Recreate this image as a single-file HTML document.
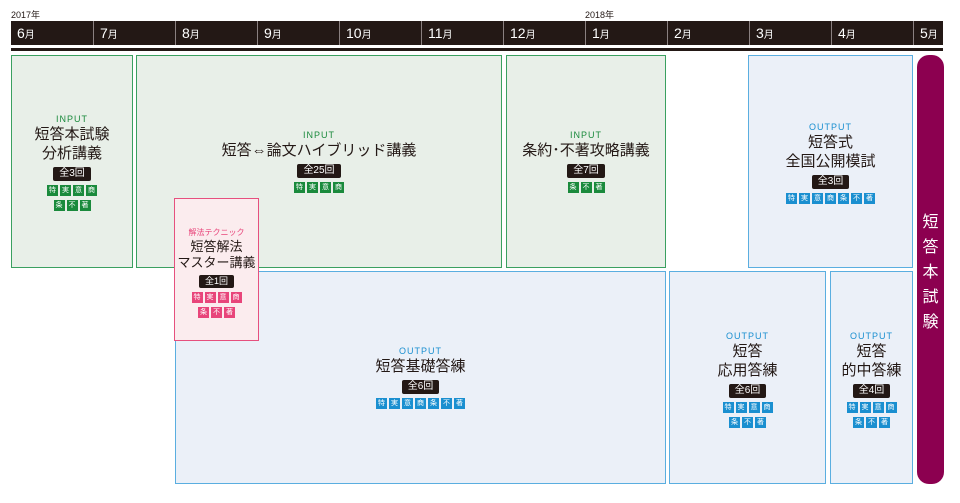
<!DOCTYPE html>
<html><head><meta charset="utf-8"><style>
*{margin:0;padding:0;box-sizing:border-box}
body{width:960px;height:503px;background:#fff;position:relative;overflow:hidden;font-family:"Liberation Sans","Noto Sans CJK JP",sans-serif;color:#231815}
.abs{position:absolute}
.yr{font-size:9px;top:8px}
.hdr{left:11px;top:21px;width:932px;height:24px;background:#231815}
.m{position:absolute;top:21px;height:24px;color:#fff;font-size:14px;line-height:25px;padding-left:6px;border-left:1px solid #8a8080}
.m small{font-size:10px}
.line{left:11px;top:48px;width:932px;height:3px;background:#231815}
.bx{position:absolute;border:1px solid}
.g{background:#e8efe8;border-color:#3aa060}
.b{background:#ebf0f8;border-color:#5aaee0}
.p{background:#fbecee;border-color:#e6507e}
.c{position:absolute;left:0;right:0;text-align:center}
.lab{font-size:9px;letter-spacing:1px;line-height:11px}
.g .lab{color:#1a8a3c}.b .lab{color:#1a8fd0}.p .lab{color:#e8457a;letter-spacing:0;font-size:8px}
.t{font-size:15px;line-height:19px;color:#231815}
.bd{display:inline-block;background:#231815;color:#fff;font-size:10px;line-height:14px;height:14px;padding:0 6px;border-radius:2px;margin-top:0}
.ic{margin-top:4px;line-height:0;font-size:0}
.ic span{display:inline-block;width:11px;height:11px;margin:0 1px 4px;font-size:7px;line-height:11px;color:#fff;text-align:center;vertical-align:top}
.g .ic span{background:#1a8a3c}.b .ic span{background:#1a8fd0}.p .ic span{background:#e8457a}
.purple{left:917px;top:55px;width:27px;height:429px;background:#8c0050;border-radius:12px}
.vt{position:absolute;left:917px;width:27px;text-align:center;color:#fff;font-size:16px;line-height:25px;top:210px}
</style></head><body>
<div class="abs yr" style="left:11px">2017年</div>
<div class="abs yr" style="left:585px">2018年</div>
<div class="abs hdr"></div>
<div class="m" style="left:11px;width:82px;border-left:none">6<small>月</small></div>
<div class="m" style="left:93px;width:82px">7<small>月</small></div>
<div class="m" style="left:175px;width:82px">8<small>月</small></div>
<div class="m" style="left:257px;width:82px">9<small>月</small></div>
<div class="m" style="left:339px;width:82px">10<small>月</small></div>
<div class="m" style="left:421px;width:82px">11<small>月</small></div>
<div class="m" style="left:503px;width:82px">12<small>月</small></div>
<div class="m" style="left:585px;width:82px">1<small>月</small></div>
<div class="m" style="left:667px;width:82px">2<small>月</small></div>
<div class="m" style="left:749px;width:82px">3<small>月</small></div>
<div class="m" style="left:831px;width:82px">4<small>月</small></div>
<div class="m" style="left:913px;width:30px">5<small>月</small></div>
<div class="abs line"></div>

<div class="bx g" style="left:11px;top:55px;width:122px;height:213px">
<div class="c" style="top:58px"><div class="lab">INPUT</div><div class="t">短答本試験<br>分析講義</div><div class="bd">全3回</div>
<div class="ic"><span>特</span><span>実</span><span>意</span><span>商</span><br><span>条</span><span>不</span><span>著</span></div></div></div>

<div class="bx g" style="left:136px;top:55px;width:366px;height:213px">
<div class="c" style="top:74px"><div class="lab">INPUT</div><div class="t">短答<span style="font-size:15px">⇔</span>論文ハイブリッド講義</div><div class="bd">全25回</div>
<div class="ic"><span>特</span><span>実</span><span>意</span><span>商</span></div></div></div>

<div class="bx g" style="left:506px;top:55px;width:160px;height:213px">
<div class="c" style="top:74px"><div class="lab">INPUT</div><div class="t">条約･不著攻略講義</div><div class="bd">全7回</div>
<div class="ic"><span>条</span><span>不</span><span>著</span></div></div></div>

<div class="bx b" style="left:748px;top:55px;width:165px;height:213px">
<div class="c" style="top:66px"><div class="lab">OUTPUT</div><div class="t">短答式<br>全国公開模試</div><div class="bd">全3回</div>
<div class="ic"><span>特</span><span>実</span><span>意</span><span>商</span><span>条</span><span>不</span><span>著</span></div></div></div>

<div class="bx b" style="left:175px;top:271px;width:491px;height:213px">
<div class="c" style="top:74px"><div class="lab">OUTPUT</div><div class="t">短答基礎答練</div><div class="bd">全6回</div>
<div class="ic"><span>特</span><span>実</span><span>意</span><span>商</span><span>条</span><span>不</span><span>著</span></div></div></div>

<div class="bx b" style="left:669px;top:271px;width:157px;height:213px">
<div class="c" style="top:59px"><div class="lab">OUTPUT</div><div class="t">短答<br>応用答練</div><div class="bd">全6回</div>
<div class="ic"><span>特</span><span>実</span><span>意</span><span>商</span><br><span>条</span><span>不</span><span>著</span></div></div></div>

<div class="bx b" style="left:830px;top:271px;width:83px;height:213px">
<div class="c" style="top:59px"><div class="lab">OUTPUT</div><div class="t">短答<br>的中答練</div><div class="bd">全4回</div>
<div class="ic"><span>特</span><span>実</span><span>意</span><span>商</span><br><span>条</span><span>不</span><span>著</span></div></div></div>

<div class="bx p" style="left:174px;top:198px;width:85px;height:143px">
<div class="c" style="top:28px"><div class="lab">解法テクニック</div><div class="t" style="font-size:13px;line-height:16px;margin-top:1px">短答解法<br>マスター講義</div><div class="bd" style="font-size:9px;height:13px;line-height:13px">全1回</div>
<div class="ic" style="margin-top:3px"><span>特</span><span>実</span><span>意</span><span>商</span><br><span>条</span><span>不</span><span>著</span></div></div></div>

<div class="abs purple"></div>
<div class="vt">短<br>答<br>本<br>試<br>験</div>
</body></html>
